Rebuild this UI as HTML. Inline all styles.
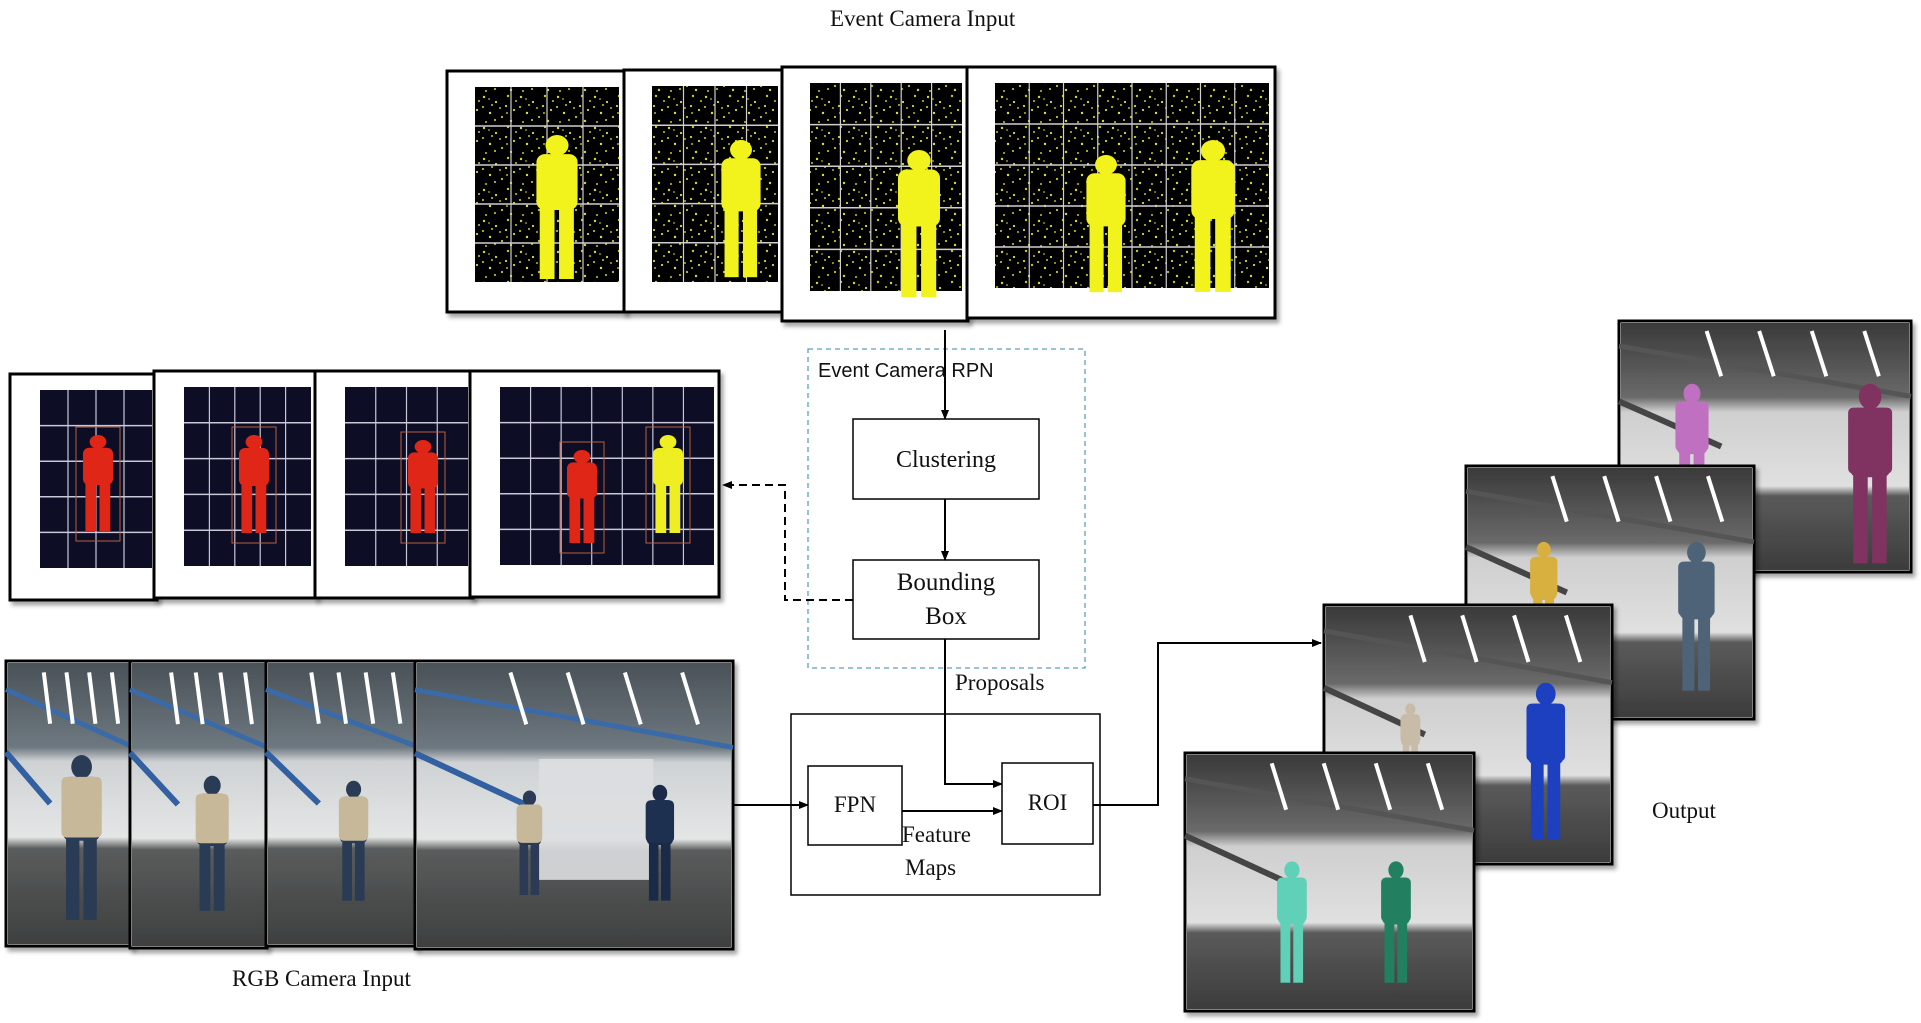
<!DOCTYPE html>
<html><head><meta charset="utf-8"><style>
html,body{margin:0;padding:0;background:#fff;}
#wrap{position:relative;width:1921px;height:1023px;overflow:hidden;background:#fff;}
.t{position:absolute;white-space:nowrap;color:#111;}
.serif{font-family:"Liberation Serif",serif;}
.sans{font-family:"Liberation Sans",sans-serif;}
</style></head><body><div id="wrap">
<svg id="s" width="1921" height="1023" viewBox="0 0 1921 1023" style="position:absolute;left:0;top:0">
<defs>
<pattern id="ydots" width="37" height="31" patternUnits="userSpaceOnUse">
<rect width="37" height="31" fill="#000"/>
<circle cx="3" cy="4" r="1.2" fill="#d8d830"/><circle cx="15" cy="9" r="1.1" fill="#e0e040"/>
<circle cx="27" cy="3" r="1.2" fill="#c8c828"/><circle cx="33" cy="17" r="1.1" fill="#d8d830"/>
<circle cx="9" cy="20" r="1.2" fill="#e0e040"/><circle cx="21" cy="24" r="1.1" fill="#c8c828"/>
<circle cx="30" cy="28" r="1.2" fill="#d8d830"/><circle cx="5" cy="29" r="1" fill="#c8c828"/>
<circle cx="19" cy="15" r="1" fill="#b8b820"/><circle cx="11" cy="12" r="1" fill="#c8c828"/>
<circle cx="25" cy="13" r="1.1" fill="#d8d830"/><circle cx="35" cy="8" r="1" fill="#c8c828"/>
<circle cx="14" cy="27" r="1" fill="#d8d830"/><circle cx="26" cy="20" r="1" fill="#b8b820"/>
<circle cx="2" cy="14" r="1" fill="#d8d830"/><circle cx="8" cy="6" r="0.9" fill="#b8b820"/>
</pattern>
<linearGradient id="rgbg" x1="0" y1="0" x2="0" y2="1">
<stop offset="0" stop-color="#4a5258"/><stop offset="0.3" stop-color="#6e7880"/>
<stop offset="0.35" stop-color="#cfd2d4"/><stop offset="0.62" stop-color="#e4e6e6"/>
<stop offset="0.66" stop-color="#5a5c5c"/><stop offset="1" stop-color="#3e4040"/>
</linearGradient>
<linearGradient id="grayg" x1="0" y1="0" x2="0" y2="1">
<stop offset="0" stop-color="#3a3a3a"/><stop offset="0.3" stop-color="#6a6a6a"/>
<stop offset="0.36" stop-color="#cfcfcf"/><stop offset="0.66" stop-color="#e0e0e0"/>
<stop offset="0.7" stop-color="#5a5a5a"/><stop offset="1" stop-color="#3c3c3c"/>
</linearGradient>
<marker id="ar" markerWidth="10" markerHeight="8" refX="9" refY="4" orient="auto" markerUnits="userSpaceOnUse"><path d="M0,0 L10,4 L0,8 z" fill="#000"/></marker>
<filter id="sh" x="-5%" y="-5%" width="115%" height="115%"><feDropShadow dx="3" dy="4" stdDeviation="2" flood-color="#000" flood-opacity="0.35"/></filter>
</defs>
<g id="g"></g>
</svg>

<div class="t serif" style="left:830px;top:6px;font-size:23px;">Event Camera Input</div>
<div class="t sans" style="left:818px;top:360px;font-size:20px;">Event Camera RPN</div>
<div class="t serif" style="left:853px;top:566px;width:186px;text-align:center;font-size:25px;line-height:34px;">Bounding<br>Box</div>
<div class="t serif" style="left:853px;top:447px;width:186px;text-align:center;font-size:24px;">Clustering</div>
<div class="t serif" style="left:955px;top:670px;font-size:23px;">Proposals</div>
<div class="t serif" style="left:808px;top:792px;width:94px;text-align:center;font-size:23px;">FPN</div>
<div class="t serif" style="left:1002px;top:790px;width:91px;text-align:center;font-size:23px;">ROI</div>
<div class="t serif" style="left:902px;top:822px;font-size:23px;">Feature</div>
<div class="t serif" style="left:905px;top:855px;font-size:23px;">Maps</div>
<div class="t serif" style="left:232px;top:966px;font-size:23px;">RGB Camera Input</div>
<div class="t serif" style="left:1652px;top:798px;font-size:23px;">Output</div>
</div>
<script>
var g=document.getElementById('g'),NS='http://www.w3.org/2000/svg';
function el(t,a,p){var e=document.createElementNS(NS,t);for(var k in a)e.setAttribute(k,a[k]);(p||g).appendChild(e);return e;}
function fig(p,cx,y0,y1,col,w){var h=y1-y0;w=w||h*0.28;
 el('ellipse',{cx:cx,cy:y0+h*0.07,rx:w*0.28,ry:h*0.07,fill:col},p);
 el('rect',{x:cx-w/2,y:y0+h*0.13,width:w,height:h*0.38,rx:w*0.2,fill:col},p);
 el('rect',{x:cx-w*0.42,y:y0+h*0.48,width:w*0.36,height:h*0.5,fill:col},p);
 el('rect',{x:cx+w*0.05,y:y0+h*0.48,width:w*0.36,height:h*0.5,fill:col},p);}
function grid(p,x0,y0,x1,y1,nx,ny,col){for(var i=1;i<=ny;i++){var y=y0+(y1-y0)*i/(ny+1);el('line',{x1:x0,y1:y,x2:x1,y2:y,stroke:col,'stroke-width':1.5},p);}
 for(var j=1;j<=nx;j++){var x=x0+(x1-x0)*j/(nx+1);el('line',{x1:x,y1:y0,x2:x,y2:y1,stroke:col,'stroke-width':1.2},p);}}
function frame(x0,y0,x1,y1){var gg=el('g',{filter:'url(#sh)'});el('rect',{x:x0,y:y0,width:x1-x0,height:y1-y0,fill:'#fff',stroke:'#000','stroke-width':3},gg);return gg;}
var ev=[[447,71,625,312,[[557,135,282]]],[624,70,784,312,[[741,140,280]]],[782,67,968,321,[[919,150,300]]],[967,67,1275,318,[[1106,155,295],[1213,140,295]]]];
ev.forEach(function(f){var p=frame(f[0],f[1],f[2],f[3]);var px=f[0]+28,py=f[1]+16,pw=f[2]-6,ph=f[3]-30;
 el('rect',{x:px,y:py,width:pw-px,height:ph-py,fill:'url(#ydots)'},p);
 grid(p,px,py,pw,ph,Math.round((pw-px)/42),4,'#cfcfcf');
 f[4].forEach(function(q){fig(p,q[0],q[1],q[2],'#f2f21c');});});
var rf=[[10,374,157,600,[[98,435,533,'#e02818']]],[154,371,316,598,[[254,435,535,'#e02818']]],[315,371,473,598,[[423,440,535,'#e02818']]],[470,371,719,597,[[582,450,545,'#e02818'],[668,435,535,'#eeee22']]]];
rf.forEach(function(f){var p=frame(f[0],f[1],f[2],f[3]);var px=f[0]+30,py=f[1]+16,pw=f[2]-5,ph=f[3]-32;
 el('rect',{x:px,y:py,width:pw-px,height:ph-py,fill:'#080c26'},p);
 grid(p,px,py,pw,ph,Math.round((pw-px)/36),4,'#c8c8d8');
 f[4].forEach(function(q){el('rect',{x:q[0]-22,y:q[1]-8,width:44,height:q[2]-q[1]+16,fill:'none',stroke:'#b86040','stroke-width':1},p);fig(p,q[0],q[1],q[2],q[3],30);});});
function scene(x0,y0,x1,y1,gray,people){var p=frame(x0,y0,x1,y1);
 el('rect',{x:x0+2,y:y0+2,width:x1-x0-4,height:y1-y0-4,fill:gray?'url(#grayg)':'url(#rgbg)'},p);
 var w=x1-x0,h=y1-y0;
 el('line',{x1:x0,y1:y0+h*0.1,x2:x1,y2:y0+h*0.3,stroke:gray?'#555':'#3a6aa8','stroke-width':5},p);
 el('line',{x1:x0,y1:y0+h*0.32,x2:x0+w*0.35,y2:y0+h*0.5,stroke:gray?'#444':'#3060a0','stroke-width':6},p);
 for(var i=0;i<4;i++){var lx=x0+w*(0.3+i*0.18);el('line',{x1:lx,y1:y0+h*0.04,x2:lx+w*0.05,y2:y0+h*0.22,stroke:'#fff','stroke-width':4},p);}
 people.forEach(function(q){var cx=x0+w*q[0],t=y0+h*q[1],b=y0+h*q[2],c=q[3];
  fig(p,cx,t,b,c[1],(b-t)*0.22);el('rect',{x:cx-(b-t)*0.12,y:t+(b-t)*0.13,width:(b-t)*0.24,height:(b-t)*0.36,rx:5,fill:c[0]},p);});}
var B=['#c8b89a','#2c3a55'];
scene(6,661,132,946,false,[[0.6,0.33,0.92,B]]);
scene(130,661,267,948,false,[[0.6,0.4,0.88,B]]);
scene(266,661,417,946,false,[[0.58,0.42,0.85,B]]);
scene(415,661,733,949,false,[[0.36,0.45,0.82,B],[0.77,0.43,0.84,['#1e3050','#1a2a48']]]);
el('rect',{x:418+318*0.38,y:661+288*0.34,width:318*0.36,height:288*0.42,fill:'#dcdee0',opacity:0.9});
(function(){var x0=415,y0=661,w=318,h=288;[[0.36,0.45,0.82,B],[0.77,0.43,0.84,['#1e3050','#1a2a48']]].forEach(function(q){var cx=x0+w*q[0],t=y0+h*q[1],b=y0+h*q[2];fig(g,cx,t,b,q[3][1],(b-t)*0.22);el('rect',{x:cx-(b-t)*0.12,y:t+(b-t)*0.13,width:(b-t)*0.24,height:(b-t)*0.36,rx:5,fill:q[3][0]});});})();
scene(1619,321,1911,572,true,[[0.25,0.25,0.8,['#c070c0','#c070c0']],[0.86,0.25,0.98,['#803060','#803060']]]);
scene(1466,466,1754,719,true,[[0.27,0.3,0.75,['#d8b040','#d8b040']],[0.8,0.3,0.9,['#506478','#506478']]]);
scene(1324,605,1612,864,true,[[0.3,0.38,0.7,['#c8bca8','#c8bca8']],[0.77,0.3,0.92,['#1a40c0','#1a40c0']]]);
scene(1185,753,1474,1011,true,[[0.37,0.42,0.9,['#60d0b8','#60d0b8']],[0.73,0.42,0.9,['#208060','#208060']]]);
el('rect',{x:808,y:349,width:277,height:319,fill:'none',stroke:'#5aa0c0','stroke-width':1.3,'stroke-dasharray':'5,4'});
el('rect',{x:853,y:419,width:186,height:80,fill:'#fff',stroke:'#000','stroke-width':1.5});
el('rect',{x:853,y:560,width:186,height:79,fill:'#fff',stroke:'#000','stroke-width':1.5});
el('rect',{x:791,y:714,width:309,height:181,fill:'none',stroke:'#000','stroke-width':1.5});
el('rect',{x:808,y:766,width:94,height:79,fill:'#fff',stroke:'#000','stroke-width':1.5});
el('rect',{x:1002,y:763,width:91,height:81,fill:'#fff',stroke:'#000','stroke-width':1.5});
var L={stroke:'#000','stroke-width':2,fill:'none','marker-end':'url(#ar)'};
el('line',Object.assign({x1:945,y1:330,x2:945,y2:419},L));
el('line',Object.assign({x1:945,y1:499,x2:945,y2:560},L));
el('polyline',Object.assign({points:'853,600 785,600 785,485 723,485','stroke-dasharray':'8,5'},L));
el('polyline',Object.assign({points:'945,639 945,784 1002,784'},L));
el('line',Object.assign({x1:902,y1:811,x2:1002,y2:811},L));
el('line',Object.assign({x1:733,y1:805,x2:808,y2:805},L));
el('polyline',Object.assign({points:'1093,805 1158,805 1158,643 1321,643'},L));
</script>
</body></html>
